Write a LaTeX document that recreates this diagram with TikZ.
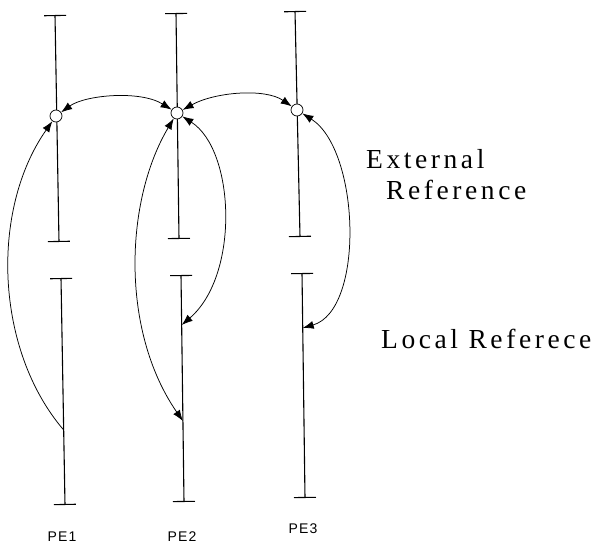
\documentclass[tikz,border=0pt]{standalone}
\usepackage{fontspec}
\newfontfamily\notefont[LetterSpace=13]{Liberation Serif}
\newfontfamily\labelfont[LetterSpace=8]{Liberation Sans}
\usepackage{tikz}
\usetikzlibrary{arrows.meta}

\begin{document}
\begin{tikzpicture}[
  x=1pt, y=-1pt,
  bar/.style={{Bar[width=22pt]}-{Bar[width=22pt]}, line width=1.1pt},
  ref/.style={circle, draw, fill=white, line width=0.7pt,
              minimum size=12pt, inner sep=0pt},
  link/.style={line width=0.75pt},
  both/.style={link, {Latex[length=11pt,width=8pt]}-{Latex[length=11pt,width=8pt]}},
  one/.style={link, -{Latex[length=11pt,width=8pt]}},
  note/.style={font=\notefont\fontsize{27.5}{32}\selectfont, anchor=base west,
               inner sep=0pt},
  pe/.style={font=\labelfont\fontsize{14}{16}\selectfont, anchor=base,
             inner sep=0pt}
]
\useasboundingbox (0,0) rectangle (599,543);

\coordinate (up1a) at (55,15);  \coordinate (up1b) at (59,242);
\coordinate (lo1a) at (61,278); \coordinate (lo1b) at (65,505);
\coordinate (up2a) at (176,13);  \coordinate (up2b) at (179,239);
\coordinate (lo2a) at (181,275); \coordinate (lo2b) at (184,502);
\coordinate (up3a) at (295,11);  \coordinate (up3b) at (300,237);
\coordinate (lo3a) at (302,273); \coordinate (lo3b) at (305,498);

\draw[bar] (up1a) -- (up1b);
\draw[bar] (lo1a) -- (lo1b);
\draw[bar] (up2a) -- (up2b);
\draw[bar] (lo2a) -- (lo2b);
\draw[bar] (up3a) -- (up3b);
\draw[bar] (lo3a) -- (lo3b);

\node[ref] (ext1) at (56,116) {};
\node[ref] (ext2) at (177,113) {};
\node[ref] (ext3) at (297,110) {};

\coordinate (loc1) at (63.7,430);
\coordinate (loc2a) at (181.7,325);
\coordinate (loc2b) at (182.9,421);
\coordinate (loc3) at (302.7,328);

\draw[both] (ext1) .. controls (85,95) and (140,90) .. (ext2);
\draw[both] (ext2) .. controls (215,92) and (265,88) .. (ext3);
\draw[one] (loc1) .. controls (-5,350) and (-10,210) .. (ext1);
\draw[both] (loc2b) .. controls (120,330) and (125,200) .. (ext2);
\draw[both] (ext2) .. controls (235,150) and (240,275) .. (loc2a);
\draw[both] (ext3) .. controls (360,150) and (365,310) .. (loc3);

\node[note] (exttext) at (366,168) {External};
\node[note] (exttextb) at (386,199) {Reference};
\node[note] (loctext) at (381,348) {Local Referece};

\node[pe] (pe1) at (62,541) {PE1};
\node[pe] (pe2) at (182,541) {PE2};
\node[pe] (pe3) at (303,533) {PE3};

\end{tikzpicture}
\end{document}
